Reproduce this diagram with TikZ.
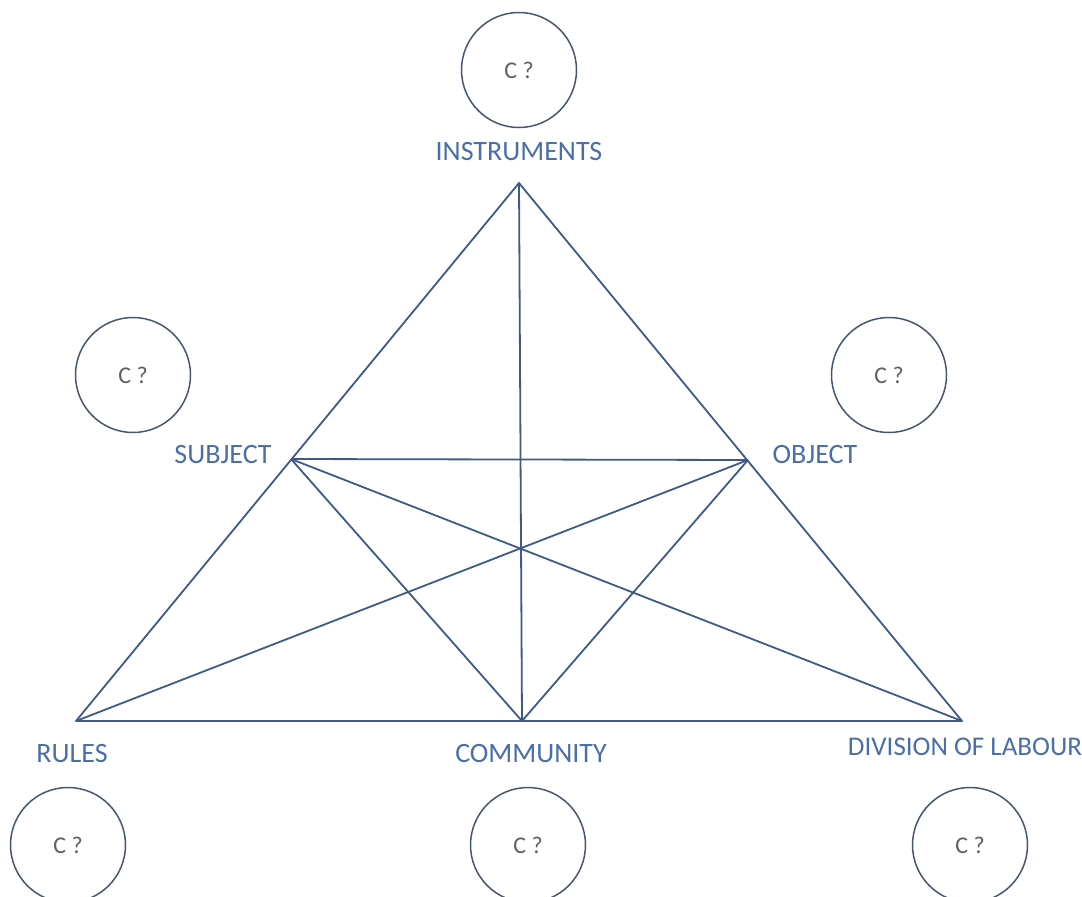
\documentclass[tikz,border=0pt]{standalone}
\usepackage{fontspec}
\setmainfont{Carlito}
\definecolor{linecol}{RGB}{62,90,135}
\definecolor{circcol}{RGB}{72,86,108}
\definecolor{labelcol}{RGB}{74,110,168}
\definecolor{qcol}{RGB}{95,95,95}
\begin{document}
\begin{tikzpicture}[x=1pt,y=-1pt,
  lbl/.style={text=labelcol,font=\fontsize{28}{33}\selectfont},
  qcircle/.style={circle,draw=circcol,line width=1.5pt,minimum size=115pt,
    inner sep=0pt,text=qcol,font=\fontsize{24}{28}\selectfont},
  link/.style={draw=linecol,line width=1.8pt,line join=round}]
  \useasboundingbox (0,0) rectangle (1082,897);

  % sommets du triangle
  \coordinate (I) at (519,183);
  \coordinate (S) at (291,459);
  \coordinate (O) at (748,460);
  \coordinate (R) at (76,721);
  \coordinate (C) at (522,721);
  \coordinate (D) at (962,721);

  % triangle et segments
  \draw[link] (I) -- (R) -- (D) -- cycle;
  \draw[link] (I) -- (C);
  \draw[link] (S) -- (O);
  \draw[link] (S) -- (C) -- (O);
  \draw[link] (S) -- (D);
  \draw[link] (O) -- (R);

  % etiquettes
  \node[lbl] (instrlbl) at (519,152) {INSTRUMENTS};
  \node[lbl] (subjlbl) at (223,455) {SUBJECT};
  \node[lbl] (objlbl) at (815,455) {OBJECT};
  \node[lbl] (ruleslbl) at (72,754) {RULES};
  \node[lbl] (commlbl) at (531,754) {COMMUNITY};
  \node[lbl,font=\fontsize{27}{32}\selectfont] (divlbl) at (965,747) {DIVISION OF LABOUR};

  % cercles
  \node[qcircle] (cinstr) at (519,70) {C ?};
  \node[qcircle] (csubj) at (133,375) {C ?};
  \node[qcircle] (cobj) at (889,375) {C ?};
  \node[qcircle] (crules) at (68,845) {C ?};
  \node[qcircle] (ccomm) at (528,845) {C ?};
  \node[qcircle] (cdiv) at (970,845) {C ?};
\end{tikzpicture}
\end{document}
